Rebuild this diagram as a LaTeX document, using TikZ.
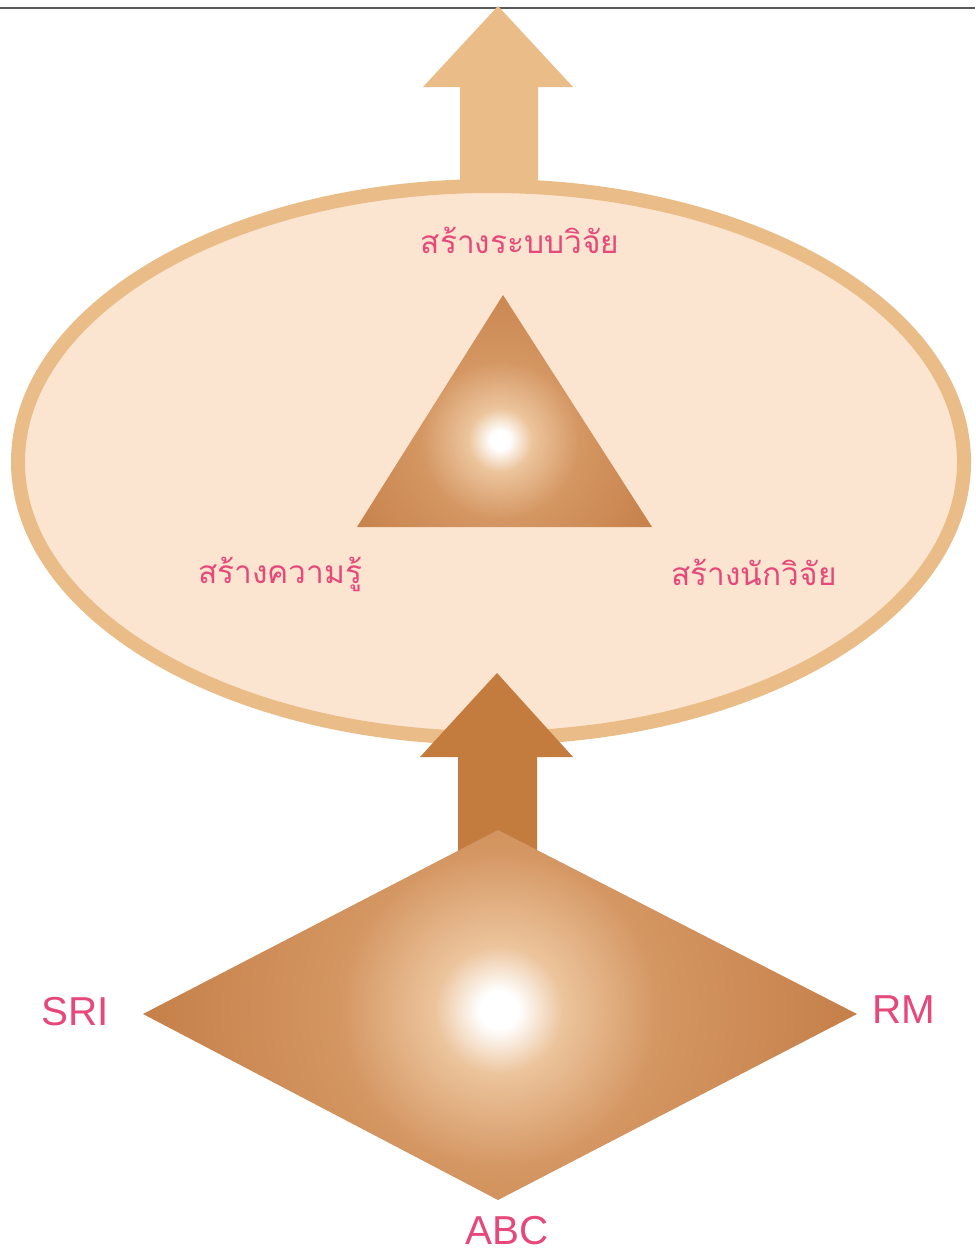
\documentclass[tikz,border=0pt]{standalone}
\usepackage{fontspec}
\setmainfont{Liberation Sans}
\newfontfamily\thaifont[Script=Thai]{Loma}
\definecolor{lightpeach}{RGB}{252,229,208}
\definecolor{ringtan}{RGB}{234,188,136}
\definecolor{arrowbrown}{RGB}{196,123,62}
\definecolor{labelpink}{RGB}{230,72,122}
\definecolor{edgebrown}{RGB}{198,128,74}
\definecolor{midtan}{RGB}{212,150,98}
\definecolor{glowtan}{RGB}{236,196,156}
\pgfdeclareradialshading{glow}{\pgfpoint{0bp}{0bp}}{color(0bp)=(white); color(1.2bp)=(white); color(4bp)=(glowtan); color(10bp)=(midtan); color(22bp)=(edgebrown); color(50bp)=(edgebrown)}
\tikzset{
  thailabel/.style={font=\thaifont\fontsize{18}{22}\selectfont, text=labelpink, anchor=base, inner sep=0pt},
  latinlabel/.style={font=\fontsize{23}{27}\selectfont, text=labelpink, inner sep=0pt},
}
\begin{document}
\begin{tikzpicture}[x=0.02cm, y=-0.02cm]
	\useasboundingbox (0,0) rectangle (975,1251);
	\draw [black!65, line width=0.035cm] (0,8) -- (975,8);

	% arrow out of the top
	\coordinate (toptip) at (498,6);
	\fill [ringtan] (toptip) -- (573,87) -- (538,87) -- (538,200) -- (460,200) -- (460,87) -- (423,87) -- cycle;

	% the big ellipse
	\draw [ringtan, line width=0.28cm, fill=lightpeach] (491,462) ellipse [x radius=473, y radius=276];

	% triangle
	\coordinate (apex) at (503,295);
	\coordinate (tleft) at (357,527);
	\coordinate (tright) at (652,527);
	\begin{scope}
	  \clip (apex) -- (tright) -- (tleft) -- cycle;
	  \shade [shading=glow] (500,440) circle (200);
	\end{scope}

	\node [thailabel] (system) at (520,253) {สร้างระบบวิจัย};
	\node [thailabel] (knowledge) at (280,583) {สร้างความรู้};
	\node [thailabel] (researcher) at (754,585) {สร้างนักวิจัย};

	% arrow from the diamond into the ellipse
	\coordinate (uptip) at (497,673);
	\fill [arrowbrown] (uptip) -- (573,757) -- (537,757) -- (537,880) -- (458,880) -- (458,757) -- (420,757) -- cycle;

	% diamond
	\coordinate (dleft) at (143,1014);
	\coordinate (dright) at (857,1014);
	\coordinate (dtop) at (498,830);
	\coordinate (dbottom) at (498,1200);
	\begin{scope}
	  \clip (dleft) -- (dtop) -- (dright) -- (dbottom) -- cycle;
	  \shade [shading=glow] (499,1010) circle (400);
	\end{scope}

	\node [latinlabel] (sri) at (75,1012) {SRI};
	\node [latinlabel] (rm) at (904,1010) {RM};
	\node [latinlabel] (abc) at (507,1231) {ABC};
\end{tikzpicture}
\end{document}
